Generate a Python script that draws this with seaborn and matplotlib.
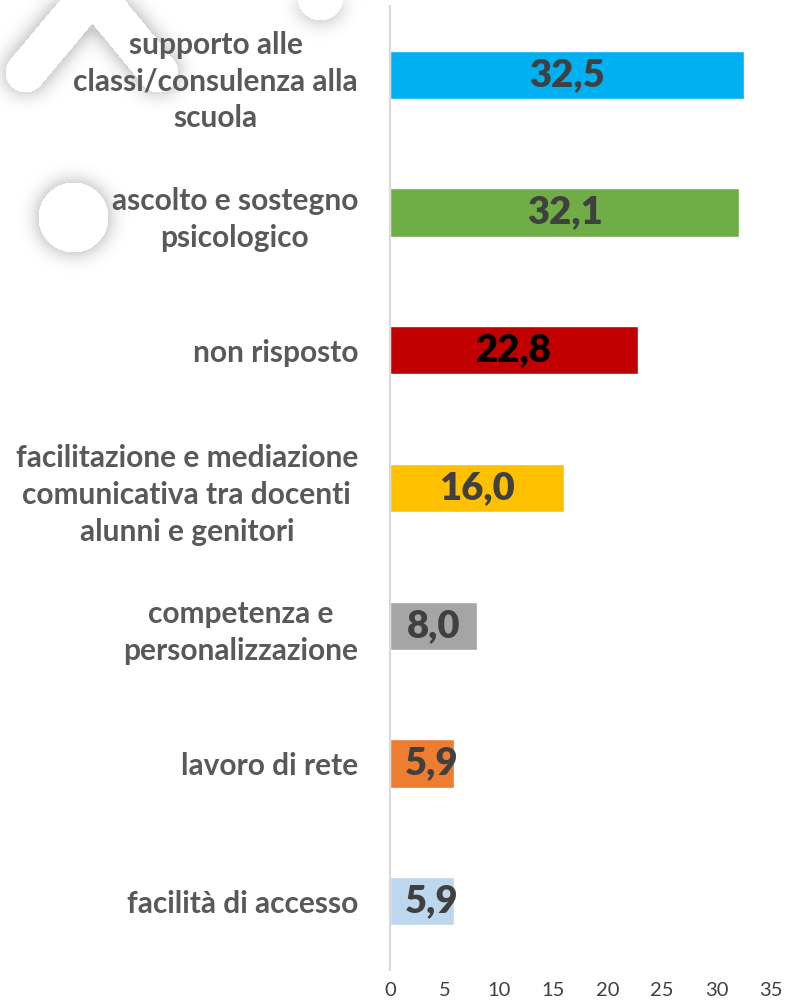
import matplotlib
matplotlib.use("Agg")
import matplotlib.pyplot as plt
import seaborn as sns
import pandas as pd
import numpy as np

categories = [
    "supporto alle\nclassi/consulenza alla\nscuola",
    "ascolto e sostegno\npsicologico",
    "non risposto",
    "facilitazione e mediazione\ncomunicativa tra docenti\nalunni e genitori",
    "competenza e\npersonalizzazione",
    "lavoro di rete",
    "facilità di accesso",
]
values = [32.5, 32.1, 22.8, 16.0, 8.0, 5.9, 5.9]
value_labels = ["32,5", "32,1", "22,8", "16,0", "8,0", "5,9", "5,9"]
bar_colors = ["#00B0F0", "#70AD47", "#C00000", "#FFC000", "#A5A5A5", "#ED7D31", "#BDD7EE"]
label_colors = ["#404040", "#404040", "#000000", "#404040", "#404040", "#404040", "#404040"]
x_ticks = [0, 5, 10, 15, 20, 25, 30, 35]

df = pd.DataFrame({"categoria": categories, "valore": values})

sns.set_theme(style="white")
plt.rcParams["font.family"] = ["Lato", "DejaVu Sans"]

W, H = 787, 1006
fig = plt.figure(figsize=(W / 100, H / 100), dpi=100)


# --- faint emblem behind the chart: white shapes with a soft drop shadow ---
def seg_dist(px, py, x0, y0, x1, y1):
    dx, dy = x1 - x0, y1 - y0
    t = np.clip(((px - x0) * dx + (py - y0) * dy) / (dx * dx + dy * dy), 0, 1)
    return np.hypot(px - (x0 + t * dx), py - (y0 + t * dy))


yy, xx = np.mgrid[0:H, 0:W].astype(float)
mask = np.zeros((H, W))
mask[seg_dist(xx, yy, 25, 72, 92, -8) < 20] = 1
mask[seg_dist(xx, yy, 92, -8, 158, 72) < 20] = 1
mask[np.hypot(xx - 73, yy - 217) < 35] = 1
mask[np.hypot(xx - 320, yy + 3) < 23] = 1

sigma = 10.0
k = np.arange(-34, 35)
kern = np.exp(-k ** 2 / (2 * sigma ** 2))
kern /= kern.sum()
blur = np.apply_along_axis(lambda r: np.convolve(r, kern, mode="same"), 1, mask)
blur = np.apply_along_axis(lambda c: np.convolve(c, kern, mode="same"), 0, blur)
shade = 1 - 0.2 * np.clip(blur * 1.8, 0, 1)
shade[mask > 0] = 1.0

bg = fig.add_axes([0, 0, 1, 1], zorder=-5)
bg.imshow(shade, cmap="gray", vmin=0, vmax=1, extent=(0, W, H, 0),
          interpolation="bilinear", aspect="auto")
bg.set_xlim(0, W)
bg.set_ylim(H, 0)
bg.axis("off")

# --- bar chart ---
ax = fig.add_axes([390 / W, 36 / H, 381 / W, 964 / H])
ax.patch.set_alpha(0)
sns.barplot(data=df, y="categoria", x="valore", hue="categoria",
            palette=bar_colors, orient="h", width=0.35, legend=False,
            ax=ax, saturation=1)

ax.set_xlim(0, 35)
ax.set_ylim(6.5, -0.5)
ax.set_xticks(x_ticks)
ax.set_xticklabels([str(t) for t in x_ticks], fontsize=14.5, color="#404040")
ax.set_xlabel("")
ax.set_ylabel("")
ax.tick_params(axis="x", length=0, pad=9)
ax.tick_params(axis="y", length=0, pad=23)
for lbl in ax.get_yticklabels():
    lbl.set_fontsize(21.5)
    lbl.set_fontweight("bold")
    lbl.set_color("#595959")
    lbl.set_multialignment("center")
    lbl.set_linespacing(1.38)

for side in ["top", "right", "bottom"]:
    ax.spines[side].set_visible(False)
ax.spines["left"].set_color("#D9D9D9")
ax.spines["left"].set_linewidth(1.5)

for i, (v, txt, c) in enumerate(zip(values, value_labels, label_colors)):
    ax.text(max(v / 2, 3.85), i, txt, ha="center", va="center",
            fontsize=27.5, fontweight="heavy", color=c)

fig.savefig("out.png", dpi=100, facecolor="white")
